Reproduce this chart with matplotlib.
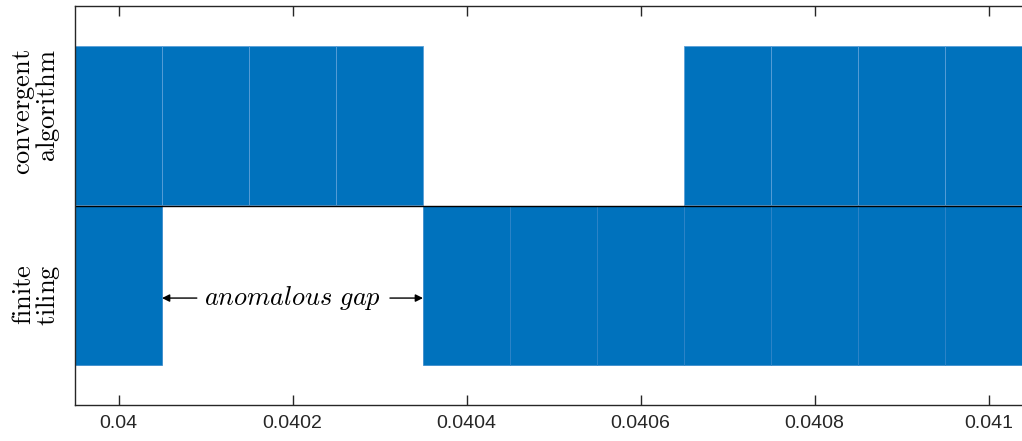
import matplotlib.pyplot as plt
import numpy as np

plt.rcParams['mathtext.fontset'] = 'cm'

# bin centres (width 0.0001) and presence in each row
centres = [0.0400, 0.0401, 0.0402, 0.0403, 0.0404, 0.0405,
           0.0406, 0.0407, 0.0408, 0.0409, 0.0410]
convergent = [1, 1, 1, 1, 0, 0, 0, 1, 1, 1, 1]
tiling = [1, 0, 0, 0, 1, 1, 1, 1, 1, 1, 1]
row_labels = ['finite\ntiling', 'convergent\nalgorithm']
label_pos = [0.44, 1.586]
xticks = [0.0400, 0.0402, 0.0404, 0.0406, 0.0408, 0.0410]
xtick_labels = ['0.04', '0.0402', '0.0404', '0.0406', '0.0408', '0.041']
width = 0.0001

blue = '#0072BD'

fig = plt.figure(figsize=(10.22, 4.41), dpi=100)
ax = fig.add_axes([75 / 1022, 36 / 441, (1032 - 75) / 1022, 399 / 441])

x = np.array(centres)
conv = np.array(convergent, dtype=bool)
tile = np.array(tiling, dtype=bool)
ax.bar(x[tile], 1, width=width, bottom=0, color=blue, edgecolor='#2f84c8', linewidth=0.5)
ax.bar(x[conv], 1, width=width, bottom=1, color=blue, edgecolor='#5a9fd8', linewidth=0.6)

ax.axhline(1, color='black', linewidth=1)

ax.set_xlim(0.03995, 0.04105)
ax.set_ylim(-0.25, 2.25)
ax.set_xticks(xticks)
ax.set_xticklabels(xtick_labels, fontsize=14, color='#262626', family='Liberation Sans')
ax.set_yticks([])
ax.tick_params(axis='x', direction='in', length=7, top=True, width=1, colors='#262626',
               labelcolor='#262626', pad=7)
for s in ax.spines.values():
    s.set_color('#262626')
    s.set_linewidth(1)

# row labels
for lab, yp in zip(row_labels, label_pos):
    l1, l2 = lab.split('\n')
    txt = r'$\mathrm{%s}$' % l1 + '\n' + r'$\mathrm{%s}$' % l2
    ax.text(-0.014, yp, txt, transform=ax.get_yaxis_transform(), rotation=90,
            ha='right', va='center', fontsize=19, linespacing=0.85)

# gap annotation
gy = 0.42
ax.text(0.0402, gy, r'$\mathit{anomalous\ gap}$', ha='center', va='center', fontsize=19)
ax.annotate('', xy=(0.04005, gy), xytext=(0.040090, gy),
            arrowprops=dict(arrowstyle='-|>', color='black', lw=1, mutation_scale=11,
                            shrinkA=0, shrinkB=0))
ax.annotate('', xy=(0.04035, gy), xytext=(0.040312, gy),
            arrowprops=dict(arrowstyle='-|>', color='black', lw=1, mutation_scale=11,
                            shrinkA=0, shrinkB=0))

fig.savefig('out.png', dpi=100)
